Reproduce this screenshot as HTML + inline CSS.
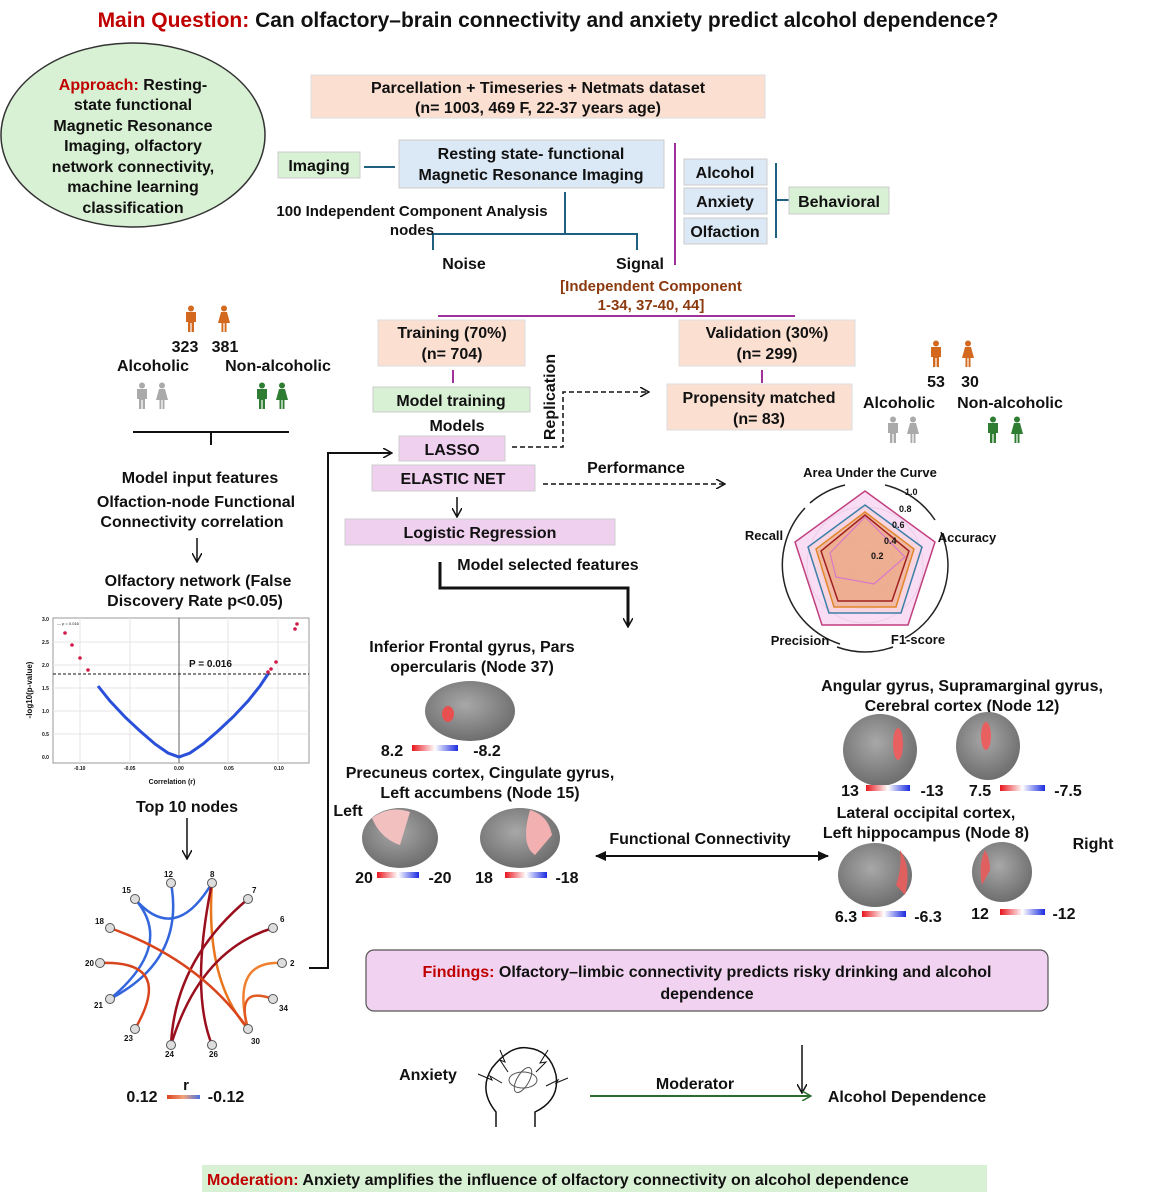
<!DOCTYPE html>
<html><head><meta charset="utf-8"><style>
html,body{margin:0;padding:0;background:#fff}
svg{display:block}
text{font-family:"Liberation Sans",Arial,sans-serif;font-weight:bold;fill:#111}
.c{text-anchor:middle}
.t16{font-size:16px}
.t15{font-size:15px}
.t13{font-size:13px}
</style></head><body>
<svg width="1149" height="1200" viewBox="0 0 1149 1200" xmlns="http://www.w3.org/2000/svg">
<defs>
<symbol id="man" viewBox="-8 -14 16 28" overflow="visible">
<circle cx="0" cy="-10.5" r="3"/>
<path d="M-5,-7 H5 V3 H3 V13 H0.6 V4 H-0.6 V13 H-3 V3 H-5 Z"/>
</symbol>
<symbol id="woman" viewBox="-8 -14 16 28" overflow="visible">
<circle cx="0" cy="-10.5" r="3"/>
<path d="M-3,-7 H3 L6,4 H2.5 V13 H0.6 V4 H-0.6 V13 H-2.5 V4 H-6 Z"/>
</symbol>
<linearGradient id="cb" x1="0" x2="1"><stop offset="0" stop-color="#e8151c"/><stop offset="0.5" stop-color="#fff"/><stop offset="1" stop-color="#1b2be0"/></linearGradient>
<linearGradient id="cbr" x1="0" x2="1"><stop offset="0" stop-color="#d8451d"/><stop offset="0.5" stop-color="#f2a27a"/><stop offset="1" stop-color="#4a73e0"/></linearGradient>
<radialGradient id="br" cx="0.45" cy="0.4" r="0.6"><stop offset="0" stop-color="#a8a8a8"/><stop offset="1" stop-color="#6e6e6e"/></radialGradient>
<marker id="ah" markerWidth="10" markerHeight="10" refX="8" refY="5" orient="auto" markerUnits="userSpaceOnUse"><path d="M0,0 L9,5 L0,10" fill="none" stroke="#111" stroke-width="1.5"/></marker>
<marker id="ahf" markerWidth="12" markerHeight="12" refX="10" refY="6" orient="auto-start-reverse" markerUnits="userSpaceOnUse"><path d="M0,1 L11,6 L0,11 Z" fill="#111"/></marker>
<marker id="ahg" markerWidth="10" markerHeight="10" refX="8" refY="5" orient="auto" markerUnits="userSpaceOnUse"><path d="M0,0 L9,5 L0,10" fill="none" stroke="#2e6b2e" stroke-width="1.5"/></marker>
</defs>

<text x="548" y="27" class="c" style="font-size:21px"><tspan fill="#c00000">Main Question:</tspan> Can olfactory–brain connectivity and anxiety predict alcohol dependence?</text>

<ellipse cx="133" cy="135" rx="132" ry="92" fill="#d8f0d3" stroke="#333" stroke-width="1.5"/>
<g class="t16">
<text x="133" y="90" class="c"><tspan fill="#c00000">Approach:</tspan> Resting-</text>
<text x="133" y="110" class="c">state functional</text>
<text x="133" y="131" class="c">Magnetic Resonance</text>
<text x="133" y="151" class="c">Imaging, olfactory</text>
<text x="133" y="172" class="c">network connectivity,</text>
<text x="133" y="192" class="c">machine learning</text>
<text x="133" y="213" class="c">classification</text>
</g>

<rect x="311" y="75" width="454" height="43" fill="#fbe0d2" stroke="#ddd"/>
<text x="538" y="93" class="c t16">Parcellation + Timeseries + Netmats dataset</text>
<text x="538" y="113" class="c t16">(n= 1003, 469 F, 22-37 years age)</text>

<rect x="278" y="152" width="82" height="26" fill="#d8f0d3" stroke="#ccc"/>
<text x="319" y="171" class="c t16">Imaging</text>
<line x1="364" y1="167" x2="395" y2="167" stroke="#1f5f7f" stroke-width="2"/>
<rect x="399" y="140" width="265" height="48" fill="#dbe8f5" stroke="#ccc"/>
<text x="531" y="159" class="c t16">Resting state- functional</text>
<text x="531" y="180" class="c t16">Magnetic Resonance Imaging</text>
<path d="M565,192 V234 M433,250 V234 H637 V250" fill="none" stroke="#1f5f7f" stroke-width="2"/>
<text x="412" y="216" class="c t15">100 Independent Component Analysis</text>
<text x="412" y="235" class="c t15">nodes</text>
<text x="464" y="269" class="c t16">Noise</text>
<text x="640" y="269" class="c t16">Signal</text>
<line x1="675" y1="143" x2="675" y2="265" stroke="#a0309a" stroke-width="2"/>

<rect x="684" y="159" width="83" height="26" fill="#dbe8f5" stroke="#ccc"/>
<text x="725" y="178" class="c t16">Alcohol</text>
<rect x="684" y="188" width="83" height="26" fill="#dbe8f5" stroke="#ccc"/>
<text x="725" y="207" class="c t16">Anxiety</text>
<rect x="684" y="218" width="83" height="26" fill="#dbe8f5" stroke="#ccc"/>
<text x="725" y="237" class="c t16">Olfaction</text>
<path d="M776,163 V238 M776,200 H789" stroke="#1f5f7f" stroke-width="2" fill="none"/>
<rect x="789" y="187" width="100" height="27" fill="#d8f0d3" stroke="#ccc"/>
<text x="839" y="207" class="c t16">Behavioral</text>

<text x="651" y="291" class="c t15" style="fill:#8b3a0f">[Independent Component</text>
<text x="651" y="310" class="c t15" style="fill:#8b3a0f">1-34, 37-40, 44]</text>
<line x1="438" y1="316" x2="795" y2="316" stroke="#a0309a" stroke-width="2"/>

<rect x="378" y="320" width="147" height="46" fill="#fbe0d2" stroke="#ddd"/>
<text x="452" y="338" class="c t16">Training (70%)</text>
<text x="452" y="359" class="c t16">(n= 704)</text>
<rect x="679" y="320" width="176" height="46" fill="#fbe0d2" stroke="#ddd"/>
<text x="767" y="338" class="c t16">Validation (30%)</text>
<text x="767" y="359" class="c t16">(n= 299)</text>
<line x1="453" y1="370" x2="453" y2="383" stroke="#a0309a" stroke-width="2"/>
<line x1="762" y1="370" x2="762" y2="383" stroke="#a0309a" stroke-width="2"/>

<rect x="373" y="387" width="157" height="25" fill="#d8f0d3" stroke="#ccc"/>
<text x="451" y="406" class="c t16">Model training</text>
<text x="555" y="397" class="c t16" transform="rotate(-90 555 397)">Replication</text>
<rect x="667" y="384" width="185" height="46" fill="#fbe0d2" stroke="#ddd"/>
<text x="759" y="403" class="c t16">Propensity matched</text>
<text x="759" y="424" class="c t16">(n= 83)</text>
<path d="M512,447 H563 V392 H648" fill="none" stroke="#111" stroke-width="1.5" stroke-dasharray="5,3" marker-end="url(#ah)"/>

<text x="457" y="431" class="c t16">Models</text>
<rect x="399" y="436" width="106" height="25" fill="#efd0ef" stroke="#ccc"/>
<text x="452" y="455" class="c t16">LASSO</text>
<rect x="372" y="465" width="163" height="26" fill="#efd0ef" stroke="#ccc"/>
<text x="453" y="484" class="c t16">ELASTIC NET</text>
<text x="636" y="473" class="c t16">Performance</text>
<path d="M543,484 H724" fill="none" stroke="#111" stroke-width="1.5" stroke-dasharray="5,3" marker-end="url(#ah)"/>
<line x1="457" y1="497" x2="457" y2="516" stroke="#111" stroke-width="1.5" marker-end="url(#ah)"/>
<rect x="345" y="519" width="270" height="26" fill="#efd0ef" stroke="#ccc"/>
<text x="480" y="538" class="c t16">Logistic Regression</text>
<text x="548" y="570" class="c t16">Model selected features</text>
<path d="M440,562 V588 H628 V626" fill="none" stroke="#111" stroke-width="3" marker-end="url(#ah)"/>

<!-- Radar -->
<g transform="translate(865,565)">
<circle r="58" fill="none" stroke="#ddd"/><circle r="44" fill="none" stroke="#ddd"/><circle r="29" fill="none" stroke="#ddd"/><circle r="15" fill="none" stroke="#ddd"/>
<path d="M-60,-57 A83,83 0 0 0 -25,79" fill="none" stroke="#222" stroke-width="1.5"/>
<path d="M-28,82 Q0,92 28,82" fill="none" stroke="#222" stroke-width="1.5"/>
<path d="M40,73 A83,83 0 0 0 76,-33" fill="none" stroke="#222" stroke-width="1.5"/>
<path d="M70,-45 A83,83 0 0 0 20,-80" fill="none" stroke="#222" stroke-width="1.5"/>
<path d="M-20,-80 A83,83 0 0 0 -55,-62" fill="none" stroke="#222" stroke-width="1.5"/>
<polygon points="0,-74 70,-23 43,60 -43,60 -70,-23" fill="#f4c6ec" fill-opacity="0.6" stroke="#c0407e" stroke-width="1.5"/>
<polygon points="0,-60 57,-18 36,48 -36,48 -57,-18" fill="#f6d0d0" fill-opacity="0.5" stroke="#3d7fa8" stroke-width="1.5"/>
<polygon points="0,-53 49,-16 31,42 -31,42 -49,-16" fill="#efa880" fill-opacity="0.6" stroke="#e0852a" stroke-width="1.5"/>
<polygon points="0,-50 44,-14 27,36 -27,36 -44,-14" fill="#e8a27c" fill-opacity="0.5" stroke="#a02020" stroke-width="1.5"/>
<polygon points="0,-48 40,-8 9,19 -29,12 -35,-12" fill="none" stroke="#d878c8" stroke-width="1.2"/>
<g style="font-size:9px"><text x="40" y="-70">1.0</text><text x="34" y="-53">0.8</text><text x="27" y="-37">0.6</text><text x="19" y="-21">0.4</text><text x="6" y="-6">0.2</text></g>
</g>
<text x="870" y="477" class="c t13">Area Under the Curve</text>
<text x="967" y="542" class="c t13">Accuracy</text>
<text x="764" y="540" class="c t13">Recall</text>
<text x="800" y="645" class="c t13">Precision</text>
<text x="918" y="644" class="c t13">F1-score</text>

<g fill="#d2691e"><use href="#man" x="183" y="305" width="16" height="28"/><use href="#woman" x="216" y="305" width="16" height="28"/></g>
<text x="185" y="352" class="c t16">323</text><text x="225" y="352" class="c t16">381</text>
<text x="153" y="371" class="c t16">Alcoholic</text>
<text x="278" y="371" class="c t16">Non-alcoholic</text>
<g fill="#aaa"><use href="#man" x="134" y="382" width="16" height="28"/><use href="#woman" x="154" y="382" width="16" height="28"/></g>
<g fill="#2e7d32"><use href="#man" x="254" y="382" width="16" height="28"/><use href="#woman" x="274" y="382" width="16" height="28"/></g>
<path d="M133,432 H289 M211,432 V445" stroke="#111" stroke-width="2"/>

<g fill="#d2691e"><use href="#man" x="928" y="340" width="16" height="28"/><use href="#woman" x="960" y="340" width="16" height="28"/></g>
<text x="936" y="387" class="c t16">53</text><text x="970" y="387" class="c t16">30</text>
<text x="899" y="408" class="c t16">Alcoholic</text>
<text x="1010" y="408" class="c t16">Non-alcoholic</text>
<g fill="#aaa"><use href="#man" x="885" y="416" width="16" height="28"/><use href="#woman" x="905" y="416" width="16" height="28"/></g>
<g fill="#2e7d32"><use href="#man" x="985" y="416" width="16" height="28"/><use href="#woman" x="1009" y="416" width="16" height="28"/></g>

<text x="200" y="483" class="c t16">Model input features</text>
<text x="196" y="507" class="c t16">Olfaction-node Functional</text>
<text x="192" y="527" class="c t16">Connectivity correlation</text>
<line x1="197" y1="538" x2="197" y2="561" stroke="#111" stroke-width="1.5" marker-end="url(#ah)"/>
<text x="198" y="586" class="c t16">Olfactory network (False</text>
<text x="195" y="606" class="c t16">Discovery Rate p&lt;0.05)</text>

<g>
<rect x="53" y="618" width="256" height="145" fill="#fff" stroke="#999"/>
<g stroke="#e6e6e6" stroke-width="1">
<line x1="80" y1="618" x2="80" y2="763"/><line x1="130" y1="618" x2="130" y2="763"/><line x1="228" y1="618" x2="228" y2="763"/><line x1="278" y1="618" x2="278" y2="763"/>
<line x1="53" y1="734" x2="309" y2="734"/><line x1="53" y1="711" x2="309" y2="711"/><line x1="53" y1="688" x2="309" y2="688"/><line x1="53" y1="665" x2="309" y2="665"/><line x1="53" y1="642" x2="309" y2="642"/>
</g>
<line x1="179" y1="618" x2="179" y2="763" stroke="#666"/>
<line x1="53" y1="674" x2="309" y2="674" stroke="#111" stroke-dasharray="3,2"/>
<polyline points="98,686 110,701 125,717 140,731 155,744 168,753 179,757 190,753 203,744 218,731 233,717 248,701 260,686 268,674" fill="none" stroke="#2a4fd8" stroke-width="3"/>
<g fill="#d11a4a"><circle cx="65" cy="633" r="1.8"/><circle cx="72" cy="645" r="1.8"/><circle cx="80" cy="658" r="1.8"/><circle cx="88" cy="670" r="1.8"/><circle cx="276" cy="662" r="1.8"/><circle cx="271" cy="669" r="1.8"/><circle cx="268" cy="672" r="1.8"/><circle cx="295" cy="629" r="1.8"/><circle cx="297" cy="624" r="1.8"/></g>
<text x="189" y="667" style="font-size:10px">P = 0.016</text>
<text x="57" y="625" style="font-size:4px;font-weight:normal">--- p = 0.016</text>
<g style="font-size:5px"><text x="42" y="621">3.0</text><text x="42" y="644">2.5</text><text x="42" y="667">2.0</text><text x="42" y="690">1.5</text><text x="42" y="713">1.0</text><text x="42" y="736">0.5</text><text x="42" y="759">0.0</text>
<text x="74" y="770">-0.10</text><text x="124" y="770">-0.05</text><text x="174" y="770">0.00</text><text x="224" y="770">0.05</text><text x="274" y="770">0.10</text></g>
<text x="172" y="784" class="c" style="font-size:7px">Correlation (r)</text>
<text x="32" y="690" class="c" style="font-size:8px" transform="rotate(-90 32 690)">-log10(p-value)</text>
</g>
<text x="187" y="812" class="c t16">Top 10 nodes</text>
<line x1="187" y1="818" x2="187" y2="858" stroke="#111" stroke-width="1.5" marker-end="url(#ah)"/>

<g fill="none" stroke-width="2.5">
<path d="M135,899 Q175,945 212,883" stroke="#3366dd"/>
<path d="M135,899 Q175,945 110,999" stroke="#3366dd"/>
<path d="M171,883 Q185,960 110,999" stroke="#3366dd"/>
<path d="M212,883 Q205,980 248,1029" stroke="#e8751e"/>
<path d="M212,883 Q190,990 212,1045" stroke="#9a0f1e"/>
<path d="M248,899 Q175,960 171,1045" stroke="#9a0f1e"/>
<path d="M273,928 Q200,950 171,1045" stroke="#9a0f1e"/>
<path d="M110,928 Q200,960 248,1029" stroke="#d8451d"/>
<path d="M100,963 Q175,960 135,1029" stroke="#d8451d"/>
<path d="M282,963 Q230,960 248,1029" stroke="#f08030"/>
<path d="M273,999 Q235,985 248,1029" stroke="#e05a22"/>
</g>
<g fill="#ddd" stroke="#555" stroke-width="1">
<circle cx="171" cy="883" r="4.5"/><circle cx="212" cy="883" r="4.5"/><circle cx="248" cy="899" r="4.5"/><circle cx="273" cy="928" r="4.5"/><circle cx="282" cy="963" r="4.5"/><circle cx="273" cy="999" r="4.5"/><circle cx="248" cy="1029" r="4.5"/><circle cx="212" cy="1045" r="4.5"/><circle cx="171" cy="1045" r="4.5"/><circle cx="135" cy="1029" r="4.5"/><circle cx="110" cy="999" r="4.5"/><circle cx="100" cy="963" r="4.5"/><circle cx="110" cy="928" r="4.5"/><circle cx="135" cy="899" r="4.5"/>
</g>
<g style="font-size:8px;font-weight:normal">
<text x="164" y="877">12</text><text x="210" y="877">8</text><text x="252" y="893">7</text><text x="280" y="922">6</text><text x="290" y="966">2</text><text x="279" y="1011">34</text><text x="251" y="1044">30</text><text x="209" y="1057">26</text><text x="165" y="1057">24</text><text x="124" y="1041">23</text><text x="94" y="1008">21</text><text x="85" y="966">20</text><text x="95" y="924">18</text><text x="122" y="893">15</text>
</g>
<text x="142" y="1102" class="c t16">0.12</text>
<text x="186" y="1090" class="c t15">r</text>
<rect x="167" y="1095" width="33" height="4" fill="url(#cbr)"/>
<text x="226" y="1102" class="c t16">-0.12</text>

<path d="M309,968 H328 V453 H391" fill="none" stroke="#111" stroke-width="2" marker-end="url(#ah)"/>

<text x="472" y="652" class="c t16">Inferior Frontal gyrus, Pars</text>
<text x="472" y="672" class="c t16">opercularis (Node 37)</text>
<ellipse cx="470" cy="711" rx="45" ry="30" fill="url(#br)"/>
<ellipse cx="448" cy="714" rx="6" ry="8" fill="#e85050"/>
<text x="392" y="756" class="c t16">8.2</text><rect x="412" y="745" width="46" height="6" fill="url(#cb)"/><text x="487" y="756" class="c t16">-8.2</text>

<text x="480" y="778" class="c t16">Precuneus cortex, Cingulate gyrus,</text>
<text x="480" y="798" class="c t16">Left accumbens (Node 15)</text>
<text x="348" y="816" class="c t16">Left</text>
<ellipse cx="400" cy="838" rx="38" ry="30" fill="url(#br)"/>
<path d="M372,818 Q390,805 410,812 L400,845 Q380,838 372,818Z" fill="#f3c0c0"/>
<ellipse cx="520" cy="838" rx="40" ry="30" fill="url(#br)"/>
<path d="M530,810 Q548,815 552,835 L535,855 Q520,845 530,810Z" fill="#f3b0b0"/>
<text x="364" y="883" class="c t16">20</text><rect x="377" y="872" width="42" height="6" fill="url(#cb)"/><text x="440" y="883" class="c t16">-20</text>
<text x="484" y="883" class="c t16">18</text><rect x="505" y="872" width="42" height="6" fill="url(#cb)"/><text x="567" y="883" class="c t16">-18</text>

<text x="700" y="844" class="c t16">Functional Connectivity</text>
<line x1="596" y1="856" x2="828" y2="856" stroke="#111" stroke-width="2" marker-start="url(#ahf)" marker-end="url(#ahf)"/>

<text x="962" y="691" class="c t16">Angular gyrus, Supramarginal gyrus,</text>
<text x="962" y="711" class="c t16">Cerebral cortex (Node 12)</text>
<ellipse cx="880" cy="750" rx="37" ry="36" fill="url(#br)"/>
<ellipse cx="898" cy="744" rx="5" ry="16" fill="#e86060"/>
<ellipse cx="988" cy="746" rx="32" ry="34" fill="url(#br)"/>
<ellipse cx="986" cy="736" rx="5" ry="14" fill="#e86060"/>
<text x="850" y="796" class="c t16">13</text><rect x="866" y="785" width="44" height="6" fill="url(#cb)"/><text x="932" y="796" class="c t16">-13</text>
<text x="980" y="796" class="c t16">7.5</text><rect x="1000" y="785" width="45" height="6" fill="url(#cb)"/><text x="1068" y="796" class="c t16">-7.5</text>

<text x="926" y="818" class="c t16">Lateral occipital cortex,</text>
<text x="926" y="838" class="c t16">Left hippocampus (Node 8)</text>
<text x="1093" y="849" class="c t16">Right</text>
<ellipse cx="875" cy="875" rx="37" ry="32" fill="url(#br)"/>
<path d="M900,850 Q912,868 905,895 L896,885 Q902,868 900,850Z" fill="#e06060"/>
<ellipse cx="1002" cy="872" rx="30" ry="30" fill="url(#br)"/>
<path d="M985,850 Q978,865 982,885 L990,870 Q990,858 985,850Z" fill="#e06060"/>
<text x="846" y="922" class="c t16">6.3</text><rect x="862" y="911" width="44" height="6" fill="url(#cb)"/><text x="928" y="922" class="c t16">-6.3</text>
<text x="980" y="919" class="c t16">12</text><rect x="1000" y="909" width="45" height="6" fill="url(#cb)"/><text x="1064" y="919" class="c t16">-12</text>

<rect x="366" y="950" width="682" height="61" rx="8" fill="#f1d3f1" stroke="#555" stroke-width="1.2"/>
<text x="707" y="977" class="c t16"><tspan fill="#c00000">Findings:</tspan> Olfactory–limbic connectivity predicts risky drinking and alcohol</text>
<text x="707" y="999" class="c t16">dependence</text>

<line x1="802" y1="1045" x2="802" y2="1092" stroke="#111" stroke-width="1.5" marker-end="url(#ah)"/>
<text x="428" y="1080" class="c t16">Anxiety</text>
<g fill="none" stroke="#111" stroke-width="1.5">
<path d="M496,1127 V1112 Q478,1090 492,1068 Q510,1045 528,1048 Q550,1050 556,1075 Q560,1100 535,1112 V1127"/>
<ellipse cx="523" cy="1080" rx="14" ry="8" stroke="#555" stroke-width="1"/>
<ellipse cx="523" cy="1080" rx="6" ry="14" stroke="#555" stroke-width="1" transform="rotate(30 523 1080)"/>
<path d="M500,1050 L505,1062 L500,1060 L508,1072 M548,1050 L540,1063 L546,1062 L536,1072 M478,1074 L492,1080 L490,1076 L502,1083 M568,1078 L556,1083 L558,1080 L546,1086" stroke-width="1"/>
</g>
<text x="695" y="1089" class="c t16">Moderator</text>
<line x1="590" y1="1096" x2="810" y2="1096" stroke="#2e6b2e" stroke-width="2" marker-end="url(#ahg)"/>
<text x="907" y="1102" class="c t16">Alcohol Dependence</text>

<rect x="202" y="1165" width="785" height="27" fill="#d8f0d3"/>
<text x="207" y="1185" class="t16"><tspan fill="#c00000">Moderation:</tspan>  Anxiety amplifies the influence of olfactory connectivity on alcohol dependence</text>
</svg>
</body></html>
